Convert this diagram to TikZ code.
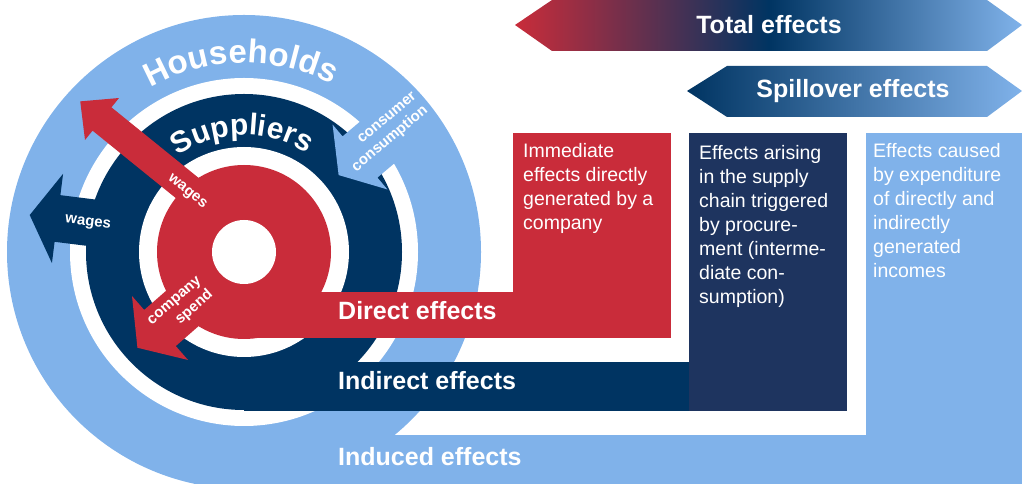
\documentclass[tikz,border=0pt]{standalone}
\usepackage{fontspec}
\setmainfont{Liberation Sans}
\usetikzlibrary{decorations.text}
\definecolor{cred}{RGB}{201,44,58}
\definecolor{cnavy}{RGB}{0,52,98}
\definecolor{cnavybox}{RGB}{30,52,95}
\definecolor{clight}{RGB}{128,178,234}
\newcommand{\hhfont}{\fontsize{33}{33}\selectfont\bfseries}
\newcommand{\supfont}{\fontsize{30}{30}\selectfont\bfseries}
% color, x, y, angle, head length, head width, shaft width, shaft length
\newcommand{\blockarr}[8]{%
  \fill[#1, shift={(#2,#3)}, rotate=#4] (0,-#7/2) -- (0,-#6/2) -- (#5,0) -- (0,#6/2) -- (0,#7/2) -- (-#8,#7/2) -- (-#8,-#7/2) -- cycle;}
\begin{document}
\begin{tikzpicture}[x=1pt,y=1pt,
  bandlabel/.style={font=\fontsize{25}{25}\selectfont\bfseries, text=white, anchor=base west, inner sep=0},
  boxtext/.style={font=\fontsize{19.5}{24}\selectfont, text=white, anchor=north west, inner sep=0, align=left},
  arrowlabel/.style={font=\fontsize{15}{18}\selectfont\bfseries, text=white, align=right, inner sep=0},
  toplabel/.style={font=\fontsize{25}{25}\selectfont\bfseries, text=white, inner sep=0}]
\useasboundingbox (0,0) rectangle (1022,484);
\clip (0,0) rectangle (1022,484);
\coordinate (C) at (244,232);
% induced (light blue)
\fill[clight] (C) circle[radius=237pt];
\fill[clight] (244,0) rectangle (1022,49);
\fill[clight] (866,0) rectangle (1022,351);
\fill[white] (C) circle[radius=174pt];
% indirect (navy)
\fill[cnavy] (C) circle[radius=158pt];
\fill[cnavy] (244,73) rectangle (689,122);
\fill[cnavybox] (689,73) rectangle (847,351);
\fill[white] (C) circle[radius=105pt];
% direct (red)
\fill[cred] (C) circle[radius=87pt];
\fill[cred] (244,146) rectangle (671,192);
\fill[cred] (513,146) rectangle (671,351);
% arrows
\blockarr{cnavy}{57.5}{265.5}{172.9}{28}{90}{47}{60}
\blockarr{clight}{360}{327}{220.2}{28}{85}{54}{50}
\blockarr{cred}{102}{365}{141}{28}{54}{30}{170}
\blockarr{cred}{160}{156}{221.2}{30}{85}{48}{100}
\fill[white] (C) circle[radius=32pt];
% top arrows
\shade[left color=cred, right color=clight, middle color=cnavy]
  (515,459) -- (552,484) -- (987,484) -- (1022,459) -- (987,433) -- (552,433) -- cycle;
\shade[left color=cnavy, right color=clight]
  (687,393) -- (727,418) -- (987,418) -- (1022,393) -- (987,367) -- (727,367) -- cycle;
\node[toplabel] (total) at (769,459) {Total effects};
\node[toplabel] (spill) at (853,393) {Spillover effects};
% ring titles
\path[decorate, decoration={text along path, text={|\hhfont|Households}, text align=center, text color=white}]
  ([shift={(152:189pt)}]C) arc[start angle=152, end angle=30, radius=189pt];
\path[decorate, decoration={text along path, text={|\supfont|Suppliers}, text align=center, text color=white}]
  ([shift={(151:117pt)}]C) arc[start angle=151, end angle=31, radius=117pt];
% arrow labels
\node[arrowlabel, rotate=-39] (wagesred) at (187,292) {wages};
\node[arrowlabel, rotate=-7] (wagesnavy) at (88,261) {wages};
\node[arrowlabel, rotate=40] (consumer) at (385,351) {consumer\\consumption};
\node[arrowlabel, rotate=41] (spend) at (181,175.5) {company\\spend};
% band labels
\node[bandlabel] (direct) at (338,164) {Direct effects};
\node[bandlabel] (indirect) at (338,94) {Indirect effects};
\node[bandlabel] (induced) at (338,18) {Induced effects};
% box texts
\node[boxtext] (redtxt) at (523,341) {Immediate\\effects directly\\generated by a\\company};
\node[boxtext] (navytxt) at (699,339) {Effects arising\\in the supply\\chain triggered\\by procure-\\ment (interme-\\diate con-\\sumption)};
\node[boxtext] (lighttxt) at (873,341) {Effects caused\\by expenditure\\of directly and\\indirectly\\generated\\incomes};
\end{tikzpicture}
\end{document}
